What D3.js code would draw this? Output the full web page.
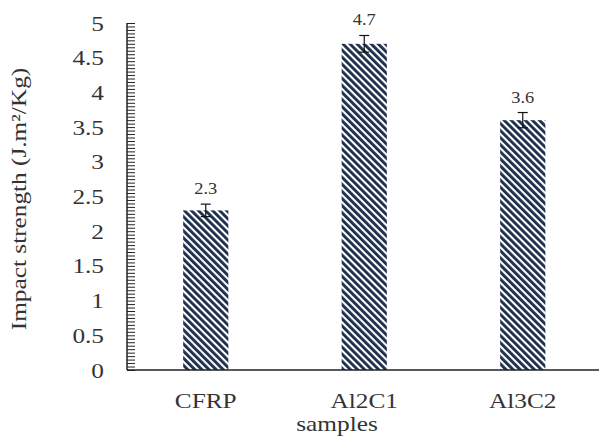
<!DOCTYPE html>
<html>
<head>
<meta charset="utf-8">
<script src="https://cdn.jsdelivr.net/npm/d3@7"></script>
<style>
  html, body { margin: 0; padding: 0; background: #fff; }
  svg { display: block; }
</style>
</head>
<body>
<svg id="chart" width="599" height="441"></svg>
<script>
const categories = ["CFRP", "Al2C1", "Al3C2"];
const values = [2.3, 4.7, 3.6];
const errors = [0.09, 0.12, 0.11];
const valueLabels = ["2.3", "4.7", "3.6"];
const yTicks = [0, 0.5, 1, 1.5, 2, 2.5, 3, 3.5, 4, 4.5, 5];
const yTickLabels = ["0", "0.5", "1", "1.5", "2", "2.5", "3", "3.5", "4", "4.5", "5"];

const FONT = "Liberation Serif";
const TXT = "#333";
const SX = 1.15;

const svg = d3.select("#chart");

const x = d3.scaleBand().domain(categories).range([126.5, 602]).paddingInner(0.715).paddingOuter(0.3575);
const y = d3.scaleLinear().domain([0, 5]).range([370, 23]);

const defs = svg.append("defs");
const pat = defs.append("pattern")
  .attr("id", "hatch").attr("patternUnits", "userSpaceOnUse")
  .attr("width", 5).attr("height", 5)
  .attr("patternTransform", "rotate(-45)");
pat.append("rect").attr("width", 5).attr("height", 5).attr("fill", "#ffffff");
pat.append("rect").attr("x", 0).attr("y", 0).attr("width", 2.9).attr("height", 5).attr("fill", "#1d2f4d");

// bars
svg.append("g").selectAll("rect").data(categories).join("rect")
  .attr("x", d => x(d)).attr("width", x.bandwidth())
  .attr("y", (d, i) => y(values[i])).attr("height", (d, i) => y(0) - y(values[i]))
  .attr("fill", "url(#hatch)");

// error bars
const eg = svg.append("g").attr("stroke", "#111").attr("stroke-width", 1.2);
categories.forEach((c, i) => {
  const cx = x(c) + x.bandwidth() / 2;
  eg.append("line").attr("x1", cx).attr("x2", cx).attr("y1", y(values[i] - errors[i])).attr("y2", y(values[i] + errors[i]));
  eg.append("line").attr("x1", cx - 5).attr("x2", cx + 5).attr("y1", y(values[i] + errors[i])).attr("y2", y(values[i] + errors[i]));
  eg.append("line").attr("x1", cx - 5).attr("x2", cx + 5).attr("y1", y(values[i] - errors[i])).attr("y2", y(values[i] - errors[i]));
});

// value labels
svg.append("g").selectAll("text").data(categories).join("text")
  .attr("transform", (d, i) => `translate(${x(d) + x.bandwidth() / 2},${y(values[i] + errors[i]) - 10}) scale(${SX},1)`)
  .attr("text-anchor", "middle")
  .style("font-family", FONT).style("font-size", "16px").style("fill", TXT)
  .text((d, i) => valueLabels[i]);

// y axis with minor ticks
const yAxisG = svg.append("g").attr("transform", `translate(127,0)`);
yAxisG.call(d3.axisRight(y).tickValues(d3.range(0, 101).map(k => k * 0.05)).tickSize(8).tickFormat(""));
yAxisG.select(".domain").remove();
yAxisG.selectAll(".tick line").attr("stroke", "#222").attr("stroke-width", 1);
yAxisG.append("line").attr("x1", 0).attr("x2", 0).attr("y1", y(5)).attr("y2", y(0)).attr("stroke", "#222").attr("stroke-width", 1.5);

const yLab = svg.append("g").attr("transform", `translate(104,0)`);
yLab.call(d3.axisLeft(y).tickValues(yTicks).tickSize(0).tickFormat((d, i) => yTickLabels[i]));
yLab.select(".domain").remove();
yLab.selectAll("text")
  .attr("x", 0).attr("dy", "0.32em").attr("transform", `scale(${SX},1)`)
  .style("font-family", FONT).style("font-size", "22px").style("fill", TXT);

// x axis
const xAxisG = svg.append("g").attr("transform", `translate(0,370)`);
xAxisG.call(d3.axisBottom(x).tickSize(0).tickPadding(22));
xAxisG.select(".domain").remove();
xAxisG.append("line").attr("x1", 127).attr("x2", 599).attr("y1", 0).attr("y2", 0).attr("stroke", "#222").attr("stroke-width", 1.5);
xAxisG.selectAll(".tick text")
  .attr("transform", `scale(${SX},1)`)
  .style("font-family", FONT).style("font-size", "22px").style("fill", TXT);

// axis titles
svg.append("text").attr("transform", `translate(337,431) scale(${SX},1)`).attr("text-anchor", "middle")
  .style("font-family", FONT).style("font-size", "22px").style("fill", TXT).text("samples");
svg.append("text").attr("transform", `translate(26,199) rotate(-90) scale(${SX},1)`).attr("text-anchor", "middle")
  .style("font-family", FONT).style("font-size", "22px").style("fill", TXT).text("Impact strength (J.m²/Kg)");
</script>
</body>
</html>
